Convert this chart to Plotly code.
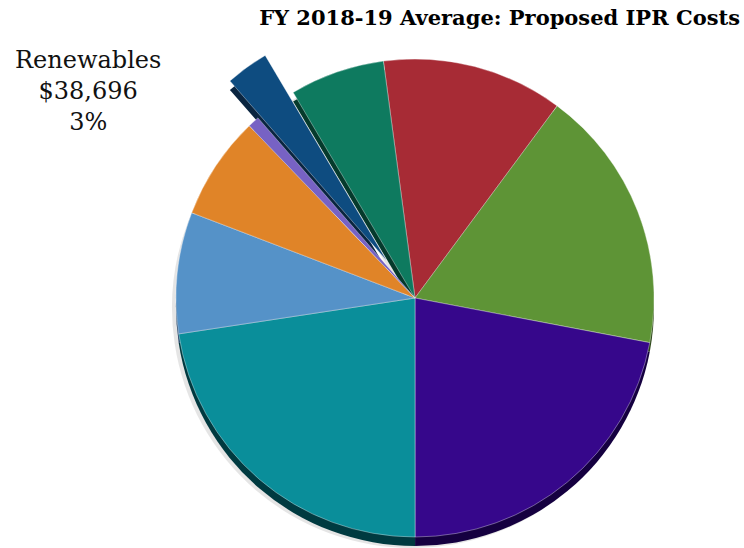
import plotly.graph_objects as go

# Average proposed IPR cost components, FY 2018-19 (dollars), clockwise from 12 o'clock
labels = ["Component A", "Component B", "Component C", "Component D", "Component E",
          "Component F", "Component G", "Renewables", "Component H"]
values = [163400, 238100, 293500, 301500, 109400, 93400, 10400, 38696, 85400]
face_colors = ["#A72B35", "#5E9436", "#36078B", "#0A8E9A", "#5592C8",
               "#E08428", "#7762C4", "#0E4C80", "#0E7A5F"]
rim_colors = ["#4A0F16", "#2A4516", "#150040", "#003A40", "#24466A",
              "#6A3A0C", "#352A66", "#0A2540", "#053A2C"]
highlight = "Renewables"

W, H = 744, 548
CX, CY, R = 415, 298, 239        # pie centre and radius in pixels
RIM = 9                          # depth of the 3D edge
PULL = (-28, -37)                # offset of the exploded slice
START = -7.6                     # angle of the first slice edge

hi = labels.index(highlight)
total = sum(values)
CLEAR = "rgba(0,0,0,0)"


def domain(cx, cy, r):
    return dict(x=[(cx - r) / W, (cx + r) / W],
                y=[1 - (cy + r) / H, 1 - (cy - r) / H])


def pie(colors, keep, cx, cy, r, edge_color=None):
    fill = [c if keep(i) else CLEAR for i, c in enumerate(colors)]
    if edge_color:
        line = dict(color=[edge_color if keep(i) else CLEAR for i in range(len(colors))],
                    width=0.8)
    else:
        line = dict(width=0)
    return go.Pie(labels=labels, values=values, sort=False, direction="clockwise",
                  rotation=START, textinfo="none", hoverinfo="label+value+percent",
                  marker=dict(colors=fill, line=line),
                  domain=domain(cx, cy, r), showlegend=False)


rest = lambda i: i != hi
pulled = lambda i: i == hi

fig = go.Figure()
# soft drop shadow
fig.add_trace(pie(["rgba(0,0,0,0.10)"] * len(values), rest, CX - 3, CY + RIM + 1, R + 1))
# side walls
fig.add_trace(pie(rim_colors, rest, CX, CY + RIM, R))
fig.add_trace(pie(rim_colors, pulled, CX + PULL[0], CY + PULL[1] + RIM, R))
# top faces
edge = "rgba(255,255,255,0.45)"
fig.add_trace(pie(face_colors, rest, CX, CY, R, edge))
fig.add_trace(pie(face_colors, pulled, CX + PULL[0], CY + PULL[1], R, edge))

pct = values[hi] / total
fig.add_annotation(text=f"{highlight}<br>${values[hi]:,}<br>{pct:.0%}",
                   x=88 / W, y=1 - 91 / H, xref="paper", yref="paper",
                   xanchor="center", yanchor="middle", showarrow=False, align="center",
                   font=dict(family="DejaVu Serif", size=24, color="#111111"))

fig.update_layout(
    width=W, height=H,
    margin=dict(l=0, r=0, t=0, b=0),
    paper_bgcolor="white", plot_bgcolor="white",
    title=dict(text="<b>FY 2018-19 Average: Proposed IPR Costs</b>",
               x=740 / W, xanchor="right", y=1 - 18 / H, yanchor="middle",
               font=dict(family="DejaVu Serif", size=21, color="#000000")),
)

fig.write_html("out.html")
